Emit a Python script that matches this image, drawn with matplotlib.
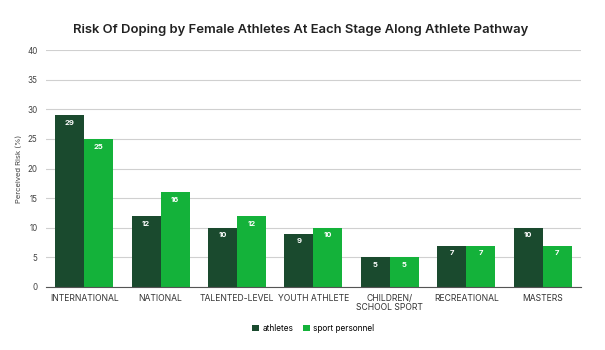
import matplotlib.pyplot as plt
import numpy as np

plt.rcParams['font.family'] = ['Inter', 'DejaVu Sans']

# data
stages = ["INTERNATIONAL", "NATIONAL", "TALENTED-LEVEL", "YOUTH ATHLETE",
          "CHILDREN/\nSCHOOL SPORT", "RECREATIONAL", "MASTERS"]
athletes = [29, 12, 10, 9, 5, 7, 10]
personnel = [25, 16, 12, 10, 5, 7, 7]

dark = "#1a4a2e"
bright = "#14b23a"

fig = plt.figure(figsize=(6.05, 3.5), dpi=100)
ax = fig.add_axes([0.076, 0.18, 0.884, 0.677])

x = np.arange(len(stages))
w = 0.38
b1 = ax.bar(x - w / 2, athletes, w, color=dark, label="athletes", zorder=2)
b2 = ax.bar(x + w / 2, personnel, w, color=bright, label="sport personnel", zorder=2)

for bars in (b1, b2):
    for r in bars:
        ax.text(r.get_x() + r.get_width() / 2, r.get_height() - 1.3,
                f"{int(r.get_height())}", ha="center", va="center",
                color="white", fontsize=5.5, fontweight="bold")

ax.set_ylim(0, 40)
ax.set_yticks(np.arange(0, 41, 5))
ax.set_xlim(-0.5, len(stages) - 0.5)
ax.set_xticks(x)
ax.set_xticklabels(stages, fontsize=6.2, color="#333333", linespacing=0.95)
ax.tick_params(axis="y", labelsize=5.8, length=0, labelcolor="#444444", pad=6)
ax.tick_params(axis="x", length=0, pad=5)
ax.yaxis.grid(True, color="#d0d0d0", linewidth=0.8, zorder=0)
ax.set_axisbelow(True)
for s in ["top", "right", "left"]:
    ax.spines[s].set_visible(False)
ax.spines["bottom"].set_color("#555555")
ax.spines["bottom"].set_linewidth(0.8)

ax.set_ylabel("Perceived Risk (%)", fontsize=5.5, color="#444444", labelpad=4)
fig.text(0.497, 0.915, "Risk Of Doping by Female Athletes At Each Stage Along Athlete Pathway",
         ha="center", va="center", fontsize=9.4, fontweight="semibold", color="#222222")

ax.legend(loc="upper center", bbox_to_anchor=(0.5, -0.125), ncol=2, frameon=False,
          fontsize=6, handlelength=0.8, handleheight=0.8, columnspacing=1.2,
          handletextpad=0.4)

fig.savefig("out.png", dpi=100)
